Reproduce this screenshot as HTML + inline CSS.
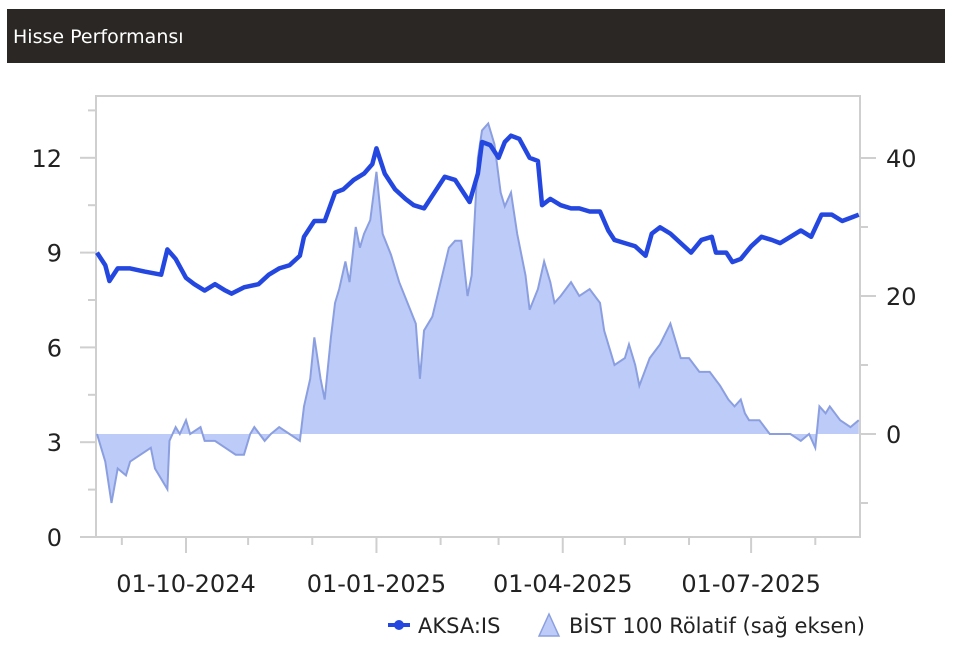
<!DOCTYPE html>
<html><head><meta charset="utf-8"><style>
body{margin:0;background:#fff;width:960px;height:664px;overflow:hidden;font-family:"DejaVu Sans","Liberation Sans",sans-serif}
#hdr{position:absolute;left:7px;top:9px;width:938px;height:54px;background:#2a2724;color:#fff;font-size:19px;line-height:56px;padding-left:6px;box-sizing:border-box}
svg{position:absolute;left:0;top:0;font-family:"DejaVu Sans","Liberation Sans",sans-serif}
</style></head><body>
<div id="hdr">Hisse Performansı</div>
<svg id="c" width="960" height="664"></svg>
<script>
const priceDays=[0,4,6,10,16,23,31,34,38,43,47,52,57,62,65,71,78,83,88,93,98,100,105,110,115,119,124,129,133,135,139,144,149,153,158,163,168,173,176,180,184,186,190,194,197,200,204,209,213,215,219,224,229,233,238,243,247,250,255,260,265,268,272,277,282,287,292,297,299,304,307,311,316,321,326,330,335,340,345,350,355,360,364,368];
const priceValues=[9.0,8.6,8.1,8.5,8.5,8.4,8.3,9.1,8.8,8.2,8.0,7.8,8.0,7.8,7.7,7.9,8.0,8.3,8.5,8.6,8.9,9.5,10.0,10.0,10.9,11.0,11.3,11.5,11.8,12.3,11.5,11.0,10.7,10.5,10.4,10.9,11.4,11.3,11.0,10.6,11.5,12.5,12.4,12.0,12.5,12.7,12.6,12.0,11.9,10.5,10.7,10.5,10.4,10.4,10.3,10.3,9.7,9.4,9.3,9.2,8.9,9.6,9.8,9.6,9.3,9.0,9.4,9.5,9.0,9.0,8.7,8.8,9.2,9.5,9.4,9.3,9.5,9.7,9.5,10.2,10.2,10.0,10.1,10.2];
const relDays=[0,4,7,10,14,16,21,26,28,30,34,35,38,40,43,45,50,52,57,62,67,71,74,76,81,84,88,93,98,100,103,105,108,110,113,115,117,120,122,125,127,129,132,135,138,142,146,150,154,156,158,162,166,170,173,176,179,181,184,186,189,192,195,197,200,203,207,209,213,216,219,221,224,229,233,238,243,245,248,250,255,257,260,262,267,272,277,282,286,291,296,301,305,308,311,313,315,320,325,330,335,340,344,347,349,352,354,359,364,368];
const relValues=[0,-4,-10,-5,-6,-4,-3,-2,-5,-6,-8,-1,1,0,2,0,1,-1,-1,-2,-3,-3,0,1,-1,0,1,0,-1,4,8,14,8,5,14,19,21,25,22,30,27,29,31,38,29,26,22,19,16,8,15,17,22,27,28,28,20,23,40,44,45,42,35,33,35,29,23,18,21,25,22,19,20,22,20,21,19,15,12,10,11,13,10,7,11,13,16,11,11,9,9,7,5,4,5,3,2,2,0,0,0,-1,0,-2,4,3,4,2,1,2];
const leftTicks=[0,3,6,9,12];
const rightTicks=[0,20,40];
const xTickLabels=["01-10-2024","01-01-2025","01-04-2025","01-07-2025"];
const xTickDays=[43,135,225,316];
const monthDays=[12,43,73,104,135,166,194,225,255,286,316,347];

const X0=97,PXD=2.07;
const x=d=>X0+d*PXD;
const yL=v=>537-v*31.6;
const yR=v=>434-v*6.9;
const svg=document.getElementById('c');
const NS='http://www.w3.org/2000/svg';
function mk(t,a){const e=document.createElementNS(NS,t);for(const k in a)e.setAttribute(k,a[k]);svg.appendChild(e);return e;}

let fr=mk('rect',{x:96,y:96,width:764,height:441,fill:'none',stroke:'#cfcfcf','stroke-width':2});



for(let v=0;v<=13.5;v+=1.5){const maj=leftTicks.includes(v);
 let t=mk('line',{x1:maj?80:88,x2:96,y1:yL(v),y2:yL(v),stroke:'#cfcfcf','stroke-width':2});
 
 }
leftTicks.forEach(v=>{let t=mk('text',{x:62,y:yL(v)+9,'text-anchor':'end','font-size':24,fill:'#222'});t.textContent=v;
 
 });
for(let v=-10;v<=40;v+=10){const maj=rightTicks.includes(v);
 let t=mk('line',{x1:860,x2:maj?876:868,y1:yR(v),y2:yR(v),stroke:'#cfcfcf','stroke-width':2});
 
 }
rightTicks.forEach(v=>{let t=mk('text',{x:886,y:yR(v)+9,'font-size':24,fill:'#222'});t.textContent=v;
 
 });
monthDays.forEach(d=>{const maj=xTickDays.includes(d);
 let t=mk('line',{x1:x(d),x2:x(d),y1:537,y2:maj?553:545,stroke:'#cfcfcf','stroke-width':2});
 
 });
xTickLabels.forEach((s,i)=>{let t=mk('text',{x:x(xTickDays[i]),y:592,'text-anchor':'middle','font-size':24,fill:'#222'});t.textContent=s;
 
 });

const n=Math.min(relDays.length,relValues.length);
let d='M'+x(relDays[0])+','+yR(0);
for(let i=0;i<n;i++)d+='L'+x(relDays[i])+','+yR(relValues[i]);
d+='L'+x(relDays[n-1])+','+yR(0)+'Z';
let ar=mk('path',{d:d,fill:'#bccbf8',stroke:'none'});


let ld='';for(let i=0;i<n;i++)ld+=(i?'L':'M')+x(relDays[i])+','+yR(relValues[i]);
let al=mk('path',{d:ld,fill:'none',stroke:'#8b9fe0','stroke-width':2});



const m=Math.min(priceDays.length,priceValues.length);
let pd='';for(let i=0;i<m;i++)pd+=(i?'L':'M')+x(priceDays[i])+','+yL(priceValues[i]);
let pl=mk('path',{d:pd,fill:'none',stroke:'#2447e0','stroke-width':4.5,'stroke-linejoin':'round'});



let l1=mk('line',{x1:388,x2:410,y1:625,y2:625,stroke:'#2447e0','stroke-width':4});


let c1=mk('circle',{cx:399,cy:625,r:5,fill:'#2447e0'});


let t1=mk('text',{x:418,y:633,'font-size':21,fill:'#222'});t1.textContent='AKSA:IS';


let tri=mk('path',{d:'M539,636L549,614L559,636Z',fill:'#bccbf8',stroke:'#8b9fe0','stroke-width':1.5});


let t2=mk('text',{x:569,y:633,'font-size':21,fill:'#222'});t2.textContent='BİST 100 Rölatif (sağ eksen)';


</script>
</body></html>
